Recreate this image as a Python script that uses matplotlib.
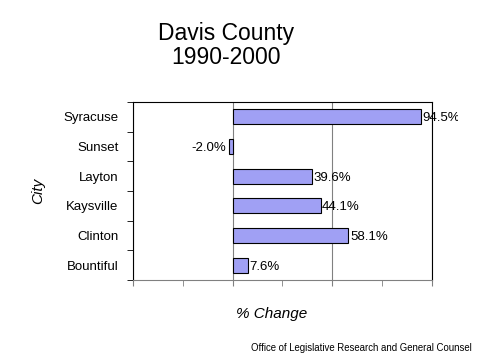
import matplotlib.pyplot as plt
from matplotlib.ticker import MultipleLocator
from matplotlib.transforms import Bbox, TransformedBbox

plt.rcParams['font.family'] = ['Liberation Sans', 'DejaVu Sans']

cities = ["Bountiful", "Clinton", "Kaysville", "Layton", "Sunset", "Syracuse"]
change = [7.6, 58.1, 44.1, 39.6, -2.0, 94.5]

fig = plt.figure(figsize=(4.8, 3.6), dpi=100)
ax = fig.add_axes([0.277, 0.222, 0.623, 0.495])

ypos = range(len(cities))
ax.barh(ypos, change, height=0.5, color="#a0a0f4", edgecolor="black", linewidth=0.8, zorder=3)

# labels get cut off near the right edge of the chart area, like the original
clip = TransformedBbox(Bbox([[0, 0], [458 / 480, 1]]), fig.transFigure)
for y, v in zip(ypos, change):
    if v >= 0:
        t = ax.text(v + 0.8, y - 0.05, f"{v:.1f}%", va="center", ha="left", fontsize=9.5, zorder=4)
    else:
        t = ax.text(v - 1.5, y - 0.05, f"{v:.1f}%", va="center", ha="right", fontsize=9.5, zorder=4)
    t.set_clip_box(clip)
    t.set_clip_on(True)

ax.set_xlim(-50, 100)
ax.set_ylim(-0.5, 5.5)
ax.xaxis.set_major_locator(MultipleLocator(50))
ax.xaxis.set_minor_locator(MultipleLocator(25))
ax.grid(axis="x", which="major", color="#808080", linewidth=0.8, zorder=0)
ax.set_xticklabels([])
ax.tick_params(axis="x", which="both", length=4, direction="out", color="#808080")

ax.set_yticks(list(ypos))
ax.set_yticklabels(cities, fontsize=9.5)
ax.set_yticks([i + 0.5 for i in range(-1, len(cities))], minor=True)
ax.tick_params(axis="y", which="major", length=0, pad=10.5)
ax.tick_params(axis="y", which="minor", length=4, direction="out")

for s in ax.spines.values():
    s.set_linewidth(0.8)
ax.spines["bottom"].set_color("#808080")

ax.set_ylabel("City", fontsize=11, style="italic", labelpad=13)
ax.set_xlabel("% Change", fontsize=11, style="italic", va="center")
ax.xaxis.set_label_coords(0.465, -0.19)

fig.text(0.471, 0.873, "Davis County\n1990-2000", ha="center", va="center", fontsize=16.5, linespacing=1.04)
fig.text(0.983, 0.02, "Office of Legislative Research and General Counsel", ha="right", va="bottom", fontsize=6.9)

fig.savefig("out.png", dpi=100)
